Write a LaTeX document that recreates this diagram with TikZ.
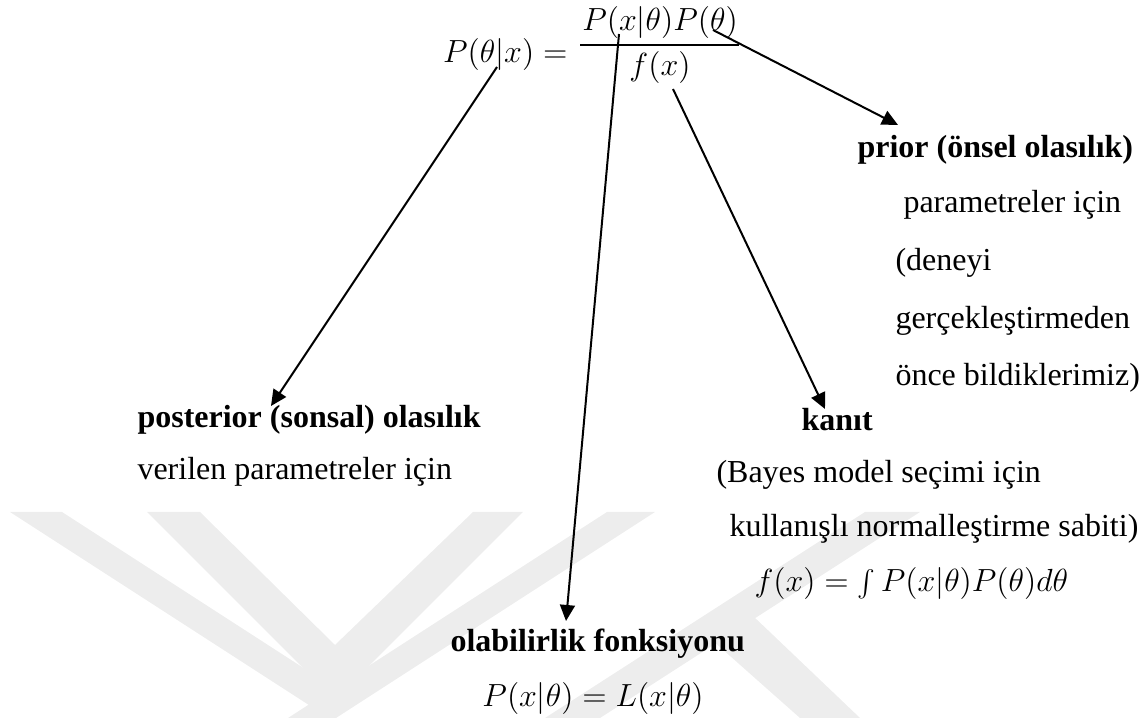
\documentclass[tikz,border=0pt]{standalone}
\usepackage{fontspec}
\setmainfont{Liberation Serif}
\usetikzlibrary{arrows.meta}
\begin{document}
\begin{tikzpicture}[x=0.375pt,y=-0.375pt,
  txt/.style={inner sep=0pt, anchor=base west, font=\fontsize{12}{14}\selectfont},
  btxt/.style={txt, font=\fontsize{12}{14}\selectfont\bfseries},
  mth/.style={inner sep=0pt, font=\fontsize{12}{14}\selectfont},
  conn/.style={line width=0.75pt, -{Triangle[length=6pt,width=5.6pt]}},
  wm/.style={fill=black!7, draw=none}]
\useasboundingbox (0,0) rectangle (1147,718);
% faint watermark
\fill[wm] (10,512) -- (62,512) -- (333,687) -- (333,718) -- (329,718) -- cycle;
\fill[wm] (147,512) -- (200,512) -- (335,645) -- (473,512) -- (523,512) -- (335,700) -- cycle;
\fill[wm] (607,512) -- (655,512) -- (336,718) -- (288,718) -- cycle;
\fill[wm] (865,512) -- (920,512) -- (600,718) -- (545,718) -- cycle;
\fill[wm] (712,640) -- (752,615) -- (860,718) -- (800,718) -- cycle;
% formula
\node[mth, anchor=base east] (lhs) at (568,63) {$P(\theta|x) =$};
\node[mth, anchor=base] (num) at (660,31) {$P(x|\theta)P(\theta)$};
\coordinate (barL) at (580,45);
\coordinate (barR) at (739,45);
\draw[line width=0.8pt] (barL) -- (barR);
\node[mth, anchor=base] (den) at (660,76) {$f(x)$};
% texts
\node[btxt] (prior) at (857,158) {prior (önsel olasılık)};
\node[txt] (pr1) at (903,213) {parametreler için};
\node[txt] (pr2) at (895,271) {(deneyi};
\node[txt] (pr3) at (895,329) {gerçekleştirmeden};
\node[txt] (pr4) at (895,386) {önce bildiklerimiz)};
\node[btxt] (post) at (137,428) {posterior (sonsal) olasılık};
\node[txt] (post1) at (137,480) {verilen parametreler için};
\node[btxt] (kanit) at (801,431) {kanıt};
\node[txt] (k1) at (716,483) {(Bayes model seçimi için};
\node[txt] (k2) at (729,537) {kullanışlı normalleştirme sabiti)};
\node[mth, anchor=base west] (k3) at (754,592) {$f(x) = \int P(x|\theta)P(\theta)d\theta$};
\node[btxt] (lik) at (450,652) {olabilirlik fonksiyonu};
\node[mth, anchor=base] (lik1) at (593,707) {$P(x|\theta) = L(x|\theta)$};
% connectors
\coordinate (sPost) at (497,67);
\coordinate (tPost) at (271,406);
\coordinate (sLik) at (619,34);
\coordinate (tLik) at (566,621);
\coordinate (sEv) at (673,89);
\coordinate (tEv) at (825,409);
\coordinate (sPr) at (713,30);
\coordinate (tPr) at (898,125);
\draw[conn] (sPost) -- (tPost);
\draw[conn] (sLik) -- (tLik);
\draw[conn] (sEv) -- (tEv);
\draw[conn] (sPr) -- (tPr);
\end{tikzpicture}
\end{document}
